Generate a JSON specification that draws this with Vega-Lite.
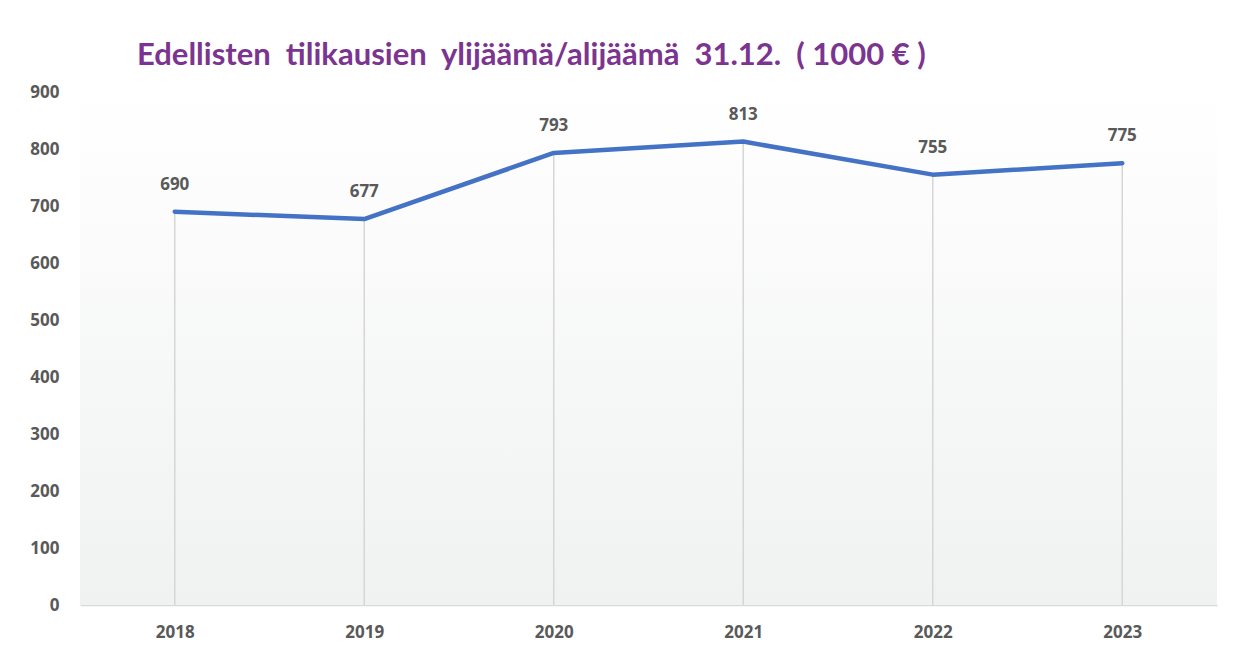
{
  "$schema": "https://vega.github.io/schema/vega-lite/v6.json",
  "autosize": "none",
  "width": 1137,
  "height": 513,
  "padding": {"left": 80, "top": 92, "right": 29, "bottom": 52},
  "background": "#ffffff",
  "title": {
    "text": "Edellisten \u00a0tilikausien \u00a0ylijäämä/alijäämä \u00a031.12. \u00a0( 1000 € )",
    "anchor": "start",
    "frame": "group",
    "dx": 57,
    "offset": 11,
    "font": "Lato",
    "fontSize": 31,
    "fontWeight": "bold",
    "color": "#7B3590"
  },
  "config": {
    "view": {"stroke": null},
    "axis": {"labelFont": "Open Sans", "labelFontSize": 17, "labelFontWeight": "bold", "labelColor": "#595959"}
  },
  "data": {
    "values": [
      {"Vuosi": "2018", "Arvo": 690},
      {"Vuosi": "2019", "Arvo": 677},
      {"Vuosi": "2020", "Arvo": 793},
      {"Vuosi": "2021", "Arvo": 813},
      {"Vuosi": "2022", "Arvo": 755},
      {"Vuosi": "2023", "Arvo": 775}
    ]
  },
  "encoding": {
    "x": {
      "field": "Vuosi",
      "type": "nominal",
      "scale": {"type": "point", "padding": 0.5},
      "axis": {"title": null, "labelAngle": 0, "ticks": false, "domain": true, "domainColor": "#d9d9d9", "domainWidth": 1.5, "labelPadding": 19, "grid": false}
    },
    "y": {
      "field": "Arvo",
      "type": "quantitative",
      "scale": {"domain": [0, 900], "nice": false},
      "axis": {"title": null, "values": [0, 100, 200, 300, 400, 500, 600, 700, 800, 900], "ticks": false, "domain": false, "grid": false, "labelPadding": 21}
    }
  },
  "layer": [
    {
      "data": {"values": [{"bg": 1}]},
      "mark": {
        "type": "rect",
        "fill": {
          "gradient": "linear",
          "x1": 0, "y1": 0, "x2": 0, "y2": 1,
          "stops": [
            {"offset": 0, "color": "#ffffff"},
            {"offset": 1, "color": "#f0f1f1"}
          ]
        }
      },
      "encoding": {"x": null, "y": null}
    },
    {
      "mark": {"type": "rule", "color": "#d6d6d6", "strokeWidth": 1.5},
      "encoding": {"y2": {"datum": 0}}
    },
    {
      "mark": {"type": "line", "color": "#4472C4", "strokeWidth": 4.5, "strokeCap": "round", "strokeJoin": "round"}
    },
    {
      "mark": {"type": "text", "dy": -27, "baseline": "middle", "font": "Open Sans", "fontSize": 17, "fontWeight": "bold", "color": "#595959"},
      "encoding": {"text": {"field": "Arvo", "type": "quantitative"}}
    }
  ]
}
